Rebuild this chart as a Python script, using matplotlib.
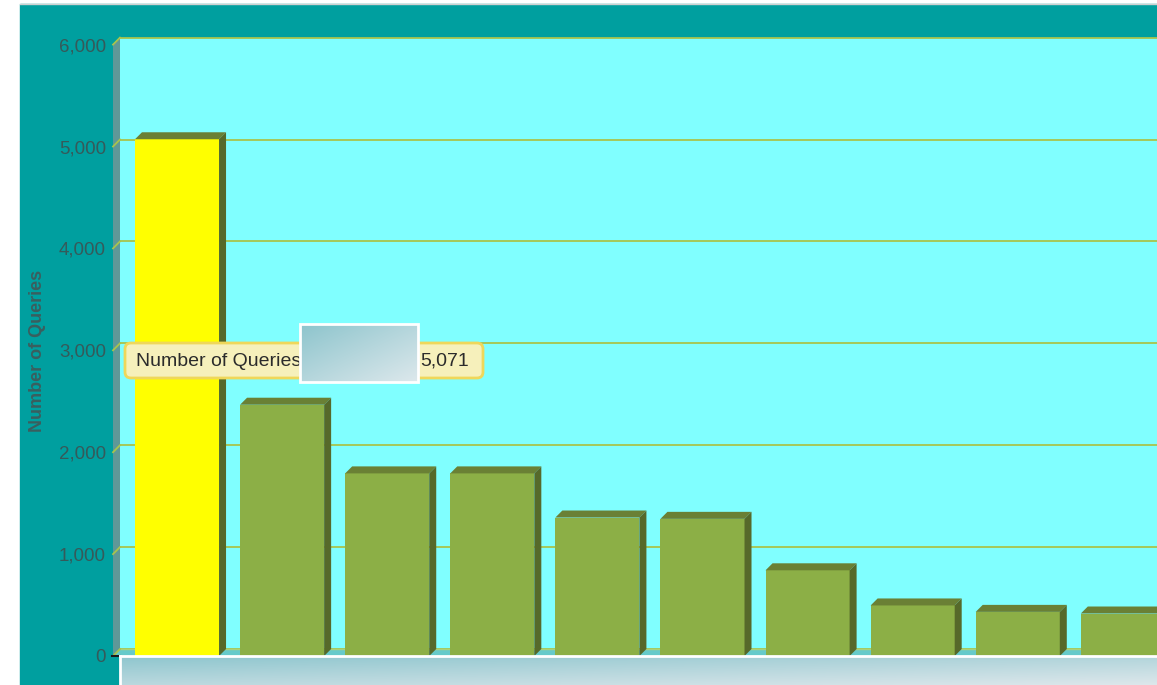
import matplotlib.pyplot as plt
import numpy as np
from matplotlib.colors import to_rgb
from matplotlib.patches import FancyBboxPatch, Polygon, Rectangle
from matplotlib.transforms import IdentityTransform

# values
queries = [5071, 2466, 1792, 1792, 1359, 1346, 841, 496, 433, 417]
y_ticks = [0, 1000, 2000, 3000, 4000, 5000, 6000]
y_title = "Number of Queries"
series_name = "Number of Queries"
hover_index = 0

W, H = 1157, 685
DX, DY = 7, 7  # depth of the fake 3d, in pixels

plt.rcParams["font.family"] = ["Liberation Sans", "DejaVu Sans"]

fig = plt.figure(figsize=(W / 100, H / 100), dpi=100)
fig.patch.set_facecolor("white")
ident = IdentityTransform()


def px_rect(x0, y0, x1, y1):
    """Pixel box measured from the top-left corner -> figure fraction rect."""
    return [x0 / W, 1 - y1 / H, (x1 - x0) / W, (y1 - y0) / H]


def gradient_box(box, c0, c1, wx, wy, z):
    gax = fig.add_axes(px_rect(*box), zorder=z)
    gax.set_axis_off()
    U, V = np.meshgrid(np.linspace(0, 1, 300), np.linspace(0, 1, 80))
    t = np.clip(wx * U + wy * V, 0, 1)[..., None]
    img = (1 - t) * np.array(to_rgb(c0)) + t * np.array(to_rgb(c1))
    gax.imshow(img, aspect="auto", interpolation="bilinear")
    return gax


# teal chart background
fig.add_artist(Rectangle((20, 0), W, H - 4, transform=ident, color="#009f9f", zorder=-10))
fig.add_artist(plt.Line2D([20, W], [H - 3.5, H - 3.5], transform=ident, color="#d0d0d0", lw=1, zorder=-9))

xlim = (-0.609, 9.325)

# back wall with the grid
axb = fig.add_axes(px_rect(113 + DX, 44.6 - DY, W + DX, 656 - DY))
axb.set_facecolor("#80ffff")
axb.set_xlim(*xlim)
axb.set_ylim(0, 6000)
axb.set_yticks(y_ticks)
axb.grid(axis="y", color="#a8c44c", lw=1.3)
for gl in axb.get_ygridlines():
    gl.set_clip_on(False)
axb.tick_params(left=False, labelleft=False, bottom=False, labelbottom=False)
for s in axb.spines.values():
    s.set_visible(False)

# front plane, carries the bars and the tick labels
ax = fig.add_axes(px_rect(113, 44.6, W, 656))
ax.patch.set_alpha(0)
ax.set_xlim(*xlim)
ax.set_ylim(0, 6000)
for s in ax.spines.values():
    s.set_visible(False)
ax.set_xticks([])
ax.set_yticks(y_ticks)
ax.set_yticklabels([f"{v:,}" for v in y_ticks])
ax.tick_params(axis="y", length=0, pad=5, labelsize=13.5, labelcolor="#355a5a")

d = np.array([DX, DY])
p_top = ax.transData.transform((xlim[0], 6000))
p_bot = ax.transData.transform((xlim[0], 0))
p_br = ax.transData.transform((xlim[1], 0))

# left wall
ax.add_patch(Polygon([p_top, p_bot, p_bot + d, p_top + d], closed=True, transform=ident,
                     fc="#5f9898", ec="none", zorder=1, clip_on=False))
# floor
ax.add_patch(Polygon([p_bot, p_br + d * [3, 0], p_br + d * [3, 1], p_bot + d], closed=True, transform=ident,
                     fc="#66caca", ec="none", zorder=1, clip_on=False))
ax.plot(*np.array([p_bot + d, p_br + d * [3, 1]]).T, transform=ident, color="#a9d27a", lw=1, zorder=1.5,
        clip_on=False)

# small tick diagonals on the left wall
for v in y_ticks:
    p = ax.transData.transform((xlim[0], v))
    ax.plot([p[0], p[0] + DX], [p[1], p[1] + DY], transform=ident, color="#a8c44c", lw=1.3, zorder=2,
            clip_on=False)
# dark base tick at zero
ax.plot([p_bot[0] - 1, p_bot[0] + DX], [p_bot[1], p_bot[1]], transform=ident, color="#1a1a1a", lw=1.5,
        zorder=2, clip_on=False)

# bars
x = np.arange(len(queries))
colors = ["#ffff00" if i == hover_index else "#8caf46" for i in x]
bw = 0.8
ax.bar(x, queries, width=bw, color=colors, lw=0, zorder=3, clip_on=False)
for xi, v in zip(x, queries):
    tl = ax.transData.transform((xi - bw / 2, v))
    tr = ax.transData.transform((xi + bw / 2, v))
    br = ax.transData.transform((xi + bw / 2, 0))
    ax.add_patch(Polygon([tl, tr, tr + d, tl + d], closed=True, transform=ident,
                         fc="#6a8035", ec="none", zorder=3, clip_on=False))
    ax.add_patch(Polygon([tr, br, br + d, tr + d], closed=True, transform=ident,
                         fc="#56692a", ec="none", zorder=3, clip_on=False))

# axis title
fig.text(38, H - 351, y_title, rotation=90, ha="center", va="center", fontsize=13, fontweight="bold",
         color="#3a5f5f", transform=ident)

# hover tooltip
fig.add_artist(FancyBboxPatch((125, H - 378), 358, 35, boxstyle="round,pad=0,rounding_size=6",
                              fc="#f6f0bb", ec="#efd75a", lw=2, transform=ident, zorder=10))
fig.text(136, H - 361, series_name, ha="left", va="center", fontsize=14, color="#2b2b2b",
         transform=ident, zorder=11)
fig.text(469, H - 361, f"{queries[hover_index]:,}", ha="right", va="center", fontsize=14, color="#2b2b2b",
         transform=ident, zorder=11)

# grey-blue box over the tooltip
gradient_box((300, 324, 418, 382), "#8cc4cc", "#dde8ec", 0.5, 0.5, 20)
fig.add_artist(Rectangle((300, H - 382), 118, 58, transform=ident, fc="none", ec="white", lw=2, zorder=21))

# box along the bottom edge
gradient_box((120, 656, W, H), "#8ec6ce", "#dde7eb", 0.45, 0.55, 5)
fig.add_artist(plt.Line2D([120, W], [H - 656, H - 656], transform=ident, color="white", lw=2, zorder=6))
fig.add_artist(plt.Line2D([120, 120], [0, H - 656], transform=ident, color="white", lw=2, zorder=6))

fig.savefig("out.png", dpi=100)
